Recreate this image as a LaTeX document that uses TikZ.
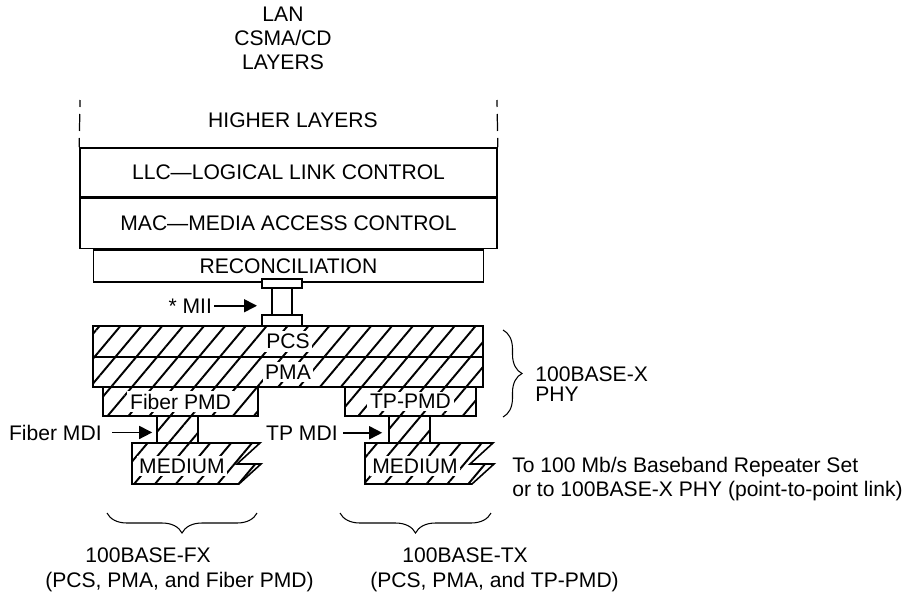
\documentclass[tikz,border=0pt]{standalone}
\usepackage{fontspec}
\setmainfont{Liberation Sans}
\usetikzlibrary{positioning, arrows.meta, patterns.meta, decorations.pathreplacing}

\begin{document}
\begin{tikzpicture}[
  font=\fontsize{12}{13.7}\selectfont,
  layer/.style={draw, line width=0.9pt, inner sep=0pt, fill=white},
  hatched/.style={draw, line width=0.9pt, inner sep=0pt, pattern={Lines[angle=50, distance=0.32cm, line width=1.1pt]}},
  tag/.style={fill=white, inner sep=1.5pt},
  ptr/.style={-{Triangle[length=0.26cm, width=0.26cm]}, line width=0.9pt},
  curly/.style={decorate, decoration={brace, amplitude=#1}, line width=0.6pt}
]
\useasboundingbox (0,0) rectangle (18.14,11.88);

% Upper layers
\node[align=center] (lan) at (5.66,11.11) {LAN\\CSMA/CD\\LAYERS};
\node[anchor=base, inner sep=0pt] (higher) at (5.86,9.34) {HIGHER LAYERS};

\node[layer, minimum width=8.34cm, minimum height=0.98cm] (llc) at (5.77,8.43) {LLC—LOGICAL LINK CONTROL};
\node[layer, minimum width=8.34cm, minimum height=1.00cm, below=0pt of llc] (mac) {MAC—MEDIA ACCESS CONTROL};
\node[layer, minimum width=7.80cm, minimum height=0.64cm, below=0pt of mac] (recon) {RECONCILIATION};

\coordinate (hlw) at (1.60,9.88);
\coordinate (hle) at (9.94,9.88);
\draw[line width=0.7pt, dash pattern=on 0.34cm off 0.14cm, dash phase=0.2cm] (hlw) -- (llc.north west);
\draw[line width=0.7pt, dash pattern=on 0.34cm off 0.14cm, dash phase=0.2cm] (hle) -- (llc.north east);

% PHY (PCS, PMA, PMDs)
\node[hatched, minimum width=7.80cm, minimum height=0.62cm] (pcs) at (5.76,5.05) {};
\node[hatched, minimum width=7.80cm, minimum height=0.60cm] (pma) at (5.76,4.44) {};
\node[tag] at (pcs) {PCS};
\node[tag] at (pma) {PMA};

\node[hatched, minimum width=3.10cm, minimum height=0.58cm] (fpmd) at (3.61,3.85) {};
\node[tag] at (fpmd) {Fiber PMD};
\node[hatched, minimum width=2.62cm, minimum height=0.58cm] (tpmd) at (8.21,3.85) {};
\node[tag] at (tpmd) {TP-PMD};

% MII
\node[layer, minimum width=0.8cm, minimum height=0.18cm] (miitop) at (5.64,6.21) {};
\node[layer, minimum width=0.8cm, minimum height=0.22cm] (miibot) at (5.64,5.47) {};
\draw[line width=0.9pt] ([xshift=-0.2cm]miitop.south) -- ([xshift=-0.2cm]miibot.north);
\draw[line width=0.9pt] ([xshift=0.2cm]miitop.south) -- ([xshift=0.2cm]miibot.north);
\node[anchor=base east, inner sep=1pt] (miitxt) at (4.28,5.62) {* MII};
\draw[ptr] (miitxt.east) -- ([xshift=-0.5cm]miibot.north |- miitxt.east);

% MDIs and media
\node[hatched, minimum width=0.82cm, minimum height=0.54cm] (fmdi) at (3.55,3.29) {};
\node[hatched, minimum width=0.82cm, minimum height=0.54cm] (tmdi) at (8.19,3.29) {};

\foreach \x/\m in {2.64/fmed, 7.30/tmed} {
  \draw[hatched] (\x,3.02) -- ++(2.56,0) -- ++(-0.46,-0.42) -- ++(0.48,0) -- ++(-0.44,-0.40) -- (\x,2.20) -- cycle;
  \node[tag] (\m) at (\x+1.0,2.56) {MEDIUM};
}

\node[anchor=base east, inner sep=0pt] (fmditxt) at (2.04,3.08) {Fiber MDI};
\draw[ptr, shorten <=0.2cm] (fmditxt.east) -- ([xshift=-0.08cm]fmdi.west |- fmditxt.east);
\node[anchor=base east, inner sep=0pt] (tmditxt) at (6.76,3.08) {TP MDI};
\draw[ptr, shorten <=0.1cm] (tmditxt.east) -- ([xshift=-0.12cm]tmdi.west |- tmditxt.east);

% Braces and notes
\draw[curly=0.38cm] (10.06,5.28) -- (10.06,3.54);
\node[anchor=west, align=left, inner sep=0pt, font=\fontsize{12}{11.5}\selectfont] (phy) at (10.70,4.20) {100BASE-X\\PHY};

\node[anchor=west, align=left, inner sep=0pt] (rep) at (10.24,2.30) {To 100 Mb/s Baseband Repeater Set\\or to 100BASE-X PHY (point-to-point link)};

\draw[curly=0.4cm] (5.14,1.62) -- (2.14,1.62);
\draw[curly=0.4cm] (9.82,1.62) -- (6.80,1.62);

\node[anchor=base west, inner sep=0pt] (fx) at (1.70,0.64) {100BASE-FX};
\node[anchor=base west, inner sep=0pt] (fxparts) at (0.90,0.14) {(PCS, PMA, and Fiber PMD)};
\node[anchor=base west, inner sep=0pt] (tx) at (8.04,0.64) {100BASE-TX};
\node[anchor=base west, inner sep=0pt] (txparts) at (7.40,0.14) {(PCS, PMA, and TP-PMD)};

\end{tikzpicture}
\end{document}
